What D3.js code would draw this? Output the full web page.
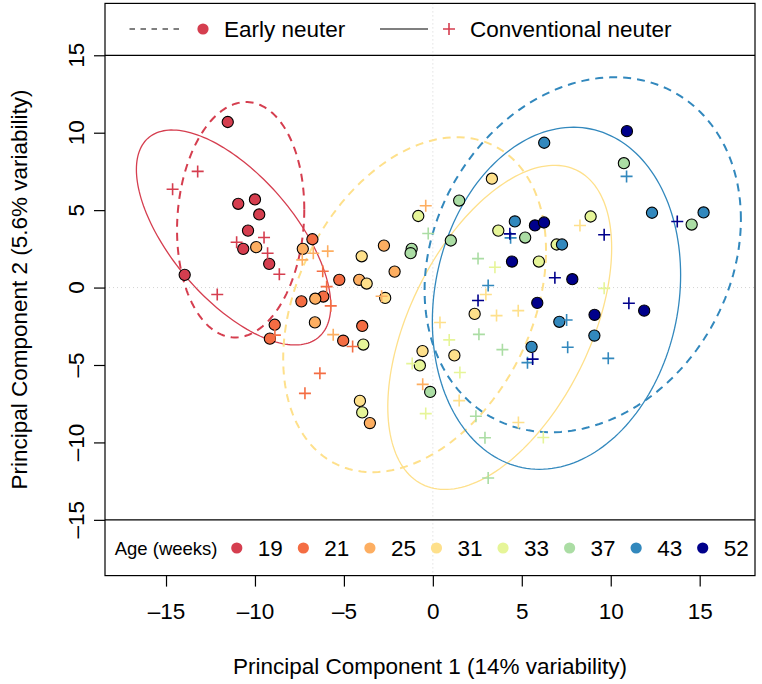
<!DOCTYPE html>
<html lang="en">
<head>
<meta charset="utf-8">
<title>pca neuter</title>
<script src="https://cdn.jsdelivr.net/npm/d3@7"></script>
<style>
body {margin: 0; background: #fff;}
text {font-family: "Liberation Sans", Arial, sans-serif; fill: #000;}
</style>
</head>
<body>
<svg width="762" height="684"></svg>
<script>
// age groups and their colours
const ages = [19, 21, 25, 31, 33, 37, 43, 52];
const ageColors = ["#D53E4F", "#F46D43", "#FDAE61", "#FEE08B", "#E6F598", "#ABDDA4", "#3288BD", "#00008B"];
const axisTicks = [-15, -10, -5, 0, 5, 10, 15];
const ellipseAges = [19, 31, 43];

// early neuter samples, [PC1, PC2]
const early19 = [[-11.53,10.69],[-10.94,5.41],[-10.00,5.69],[-9.76,4.72],[-10.39,3.68],[-10.66,2.50],[-9.20,1.53],[-13.95,0.82]];
const early21 = [[-6.77,3.12],[-7.39,-0.89],[-8.89,-2.40],[-9.16,-3.30],[-5.26,0.50],[-6.16,-0.58],[-5.04,-3.43],[-3.97,-2.48]];
const early25 = [[-9.93,2.61],[-7.31,2.50],[-6.61,-0.72],[-6.63,-2.25],[-2.75,2.71],[-4.14,0.50],[-2.15,1.03],[-3.54,-8.75]];
const early31 = [[-4.00,2.02],[-3.72,0.26],[-2.68,-0.67],[2.35,-1.70],[-0.58,-4.10],[1.21,-4.38],[-4.10,-7.32],[3.32,7.03]];
const early33 = [[-0.82,4.62],[-3.91,-3.68],[-0.73,-5.03],[-3.97,-8.06],[3.68,3.68],[8.87,4.59],[5.96,1.68],[6.96,2.78]];
const early37 = [[-1.19,2.50],[-1.25,2.22],[1.01,3.04],[-0.15,-6.74],[1.48,5.62],[10.74,8.03],[5.19,3.23],[14.55,4.07]];
const early43 = [[6.26,9.35],[4.61,4.27],[7.26,2.78],[12.32,4.83],[15.22,4.85],[7.11,-2.21],[9.08,-3.10],[5.55,-3.83]];
const early52 = [[10.91,10.10],[5.74,4.01],[6.25,4.20],[4.45,1.68],[7.84,0.54],[5.87,-0.99],[11.88,-1.49],[9.09,-1.76]];

// conventional neuter samples, [PC1, PC2]
const conv19 = [[-13.22,7.50],[-14.63,6.35],[-11.03,2.93],[-9.49,3.23],[-9.29,2.22],[-8.63,0.86],[-12.12,-0.45]];
const conv21 = [[-6.19,1.05],[-5.97,0.06],[-5.74,-1.18],[-8.88,-3.07],[-4.51,-3.81],[-6.35,-5.54],[-7.19,-6.83]];
const conv25 = [[-0.40,5.28],[-6.72,2.22],[-5.91,2.35],[-7.34,1.79],[-2.88,-0.56],[-5.60,-3.04],[-0.57,-6.25]];
const conv31 = [[8.27,4.01],[2.98,-0.45],[3.58,-1.81],[4.80,-1.49],[0.40,-2.26],[1.48,-7.30],[4.81,-8.71]];
const conv33 = [[3.49,1.31],[9.63,-0.05],[0.92,-3.38],[-1.16,-4.91],[1.52,-5.48],[-0.40,-8.14],[6.21,-9.68]];
const conv37 = [[-0.26,3.49],[2.54,1.87],[2.59,-3.02],[3.91,-4.01],[2.42,-8.31],[2.93,-9.70],[3.11,-12.30]];
const conv43 = [[10.89,7.18],[4.37,3.21],[3.11,0.13],[7.52,-2.09],[5.32,-4.85],[7.58,-3.85],[9.86,-4.57]];
const conv52 = [[4.33,3.47],[9.63,3.41],[13.74,4.27],[6.86,0.63],[2.54,-0.84],[11.02,-1.01],[5.61,-4.62]];

const earlyGroups = [early19, early21, early25, early31, early33, early37, early43, early52];
const convGroups = [conv19, conv21, conv25, conv31, conv33, conv37, conv43, conv52];

var samples = [];
ages.forEach(function (age, i) {
	earlyGroups[i].forEach(function (p) { samples.push({age: age, type: "early", pc1: p[0], pc2: p[1]}) });
	convGroups[i].forEach(function (p) { samples.push({age: age, type: "conv", pc1: p[0], pc2: p[1]}) });
});

var svg = d3.select("svg");

var x = d3.scaleLinear().domain([-18.43, 18.11]).range([105, 755]);
var y = d3.scaleLinear().domain([-18.6, 18.35]).range([575.6, 3.4]);
var color = d3.scaleOrdinal().domain(ages).range(ageColors);

/// zero lines
svg.append("line")
	.attr("x1", x(0)).attr("x2", x(0))
	.attr("y1", y.range()[1]).attr("y2", y.range()[0])
	.attr("stroke", "#d3d3d3").attr("stroke-dasharray", "1,3");
svg.append("line")
	.attr("x1", x.range()[0]).attr("x2", x.range()[1])
	.attr("y1", y(0)).attr("y2", y(0))
	.attr("stroke", "#d3d3d3").attr("stroke-dasharray", "1,3");

/// 95% normal data ellipses
function ellipse(points) {
	var mx = d3.mean(points, function (p) { return p[0] });
	var my = d3.mean(points, function (p) { return p[1] });
	var n = points.length;
	var sxx = d3.sum(points, function (p) { return (p[0] - mx) * (p[0] - mx) }) / (n - 1);
	var syy = d3.sum(points, function (p) { return (p[1] - my) * (p[1] - my) }) / (n - 1);
	var sxy = d3.sum(points, function (p) { return (p[0] - mx) * (p[1] - my) }) / (n - 1);
	var l11 = Math.sqrt(sxx), l21 = sxy / l11, l22 = Math.sqrt(syy - l21 * l21);
	var r = Math.sqrt(5.991);
	return d3.range(0, 2 * Math.PI, Math.PI / 90).map(function (t) {
		return [mx + r * l11 * Math.cos(t), my + r * (l21 * Math.cos(t) + l22 * Math.sin(t))];
	});
}

var ellLine = d3.line()
	.x(function (d) { return x(d[0]) })
	.y(function (d) { return y(d[1]) })
	.curve(d3.curveLinearClosed);

var gEll = svg.append("g").attr("fill", "none");
ellipseAges.forEach(function (age) {
	var i = ages.indexOf(age);
	gEll.append("path")
		.attr("d", ellLine(ellipse(earlyGroups[i])))
		.attr("stroke", color(age))
		.attr("stroke-width", 2)
		.attr("stroke-dasharray", "8,6");
	gEll.append("path")
		.attr("d", ellLine(ellipse(convGroups[i])))
		.attr("stroke", color(age))
		.attr("stroke-width", 1.3);
});

/// points
var gPts = svg.append("g");
gPts.selectAll("circle")
	.data(samples.filter(function (d) { return d.type == "early" }))
	.enter()
	.append("circle")
		.attr("cx", function (d) { return x(d.pc1) })
		.attr("cy", function (d) { return y(d.pc2) })
		.attr("r", 5.6)
		.attr("fill", function (d) { return color(d.age) })
		.attr("stroke", "#000")
		.attr("stroke-width", 1.1);

gPts.selectAll("path.cross")
	.data(samples.filter(function (d) { return d.type == "conv" }))
	.enter()
	.append("path")
		.classed("cross", true)
		.attr("d", function (d) {
			var cx = x(d.pc1), cy = y(d.pc2), s = 6;
			return "M" + (cx - s) + "," + cy + "H" + (cx + s) + "M" + cx + "," + (cy - s) + "V" + (cy + s);
		})
		.attr("stroke", function (d) { return color(d.age) })
		.attr("stroke-width", 1.6)
		.attr("fill", "none");

/// legend separators
svg.append("line")
	.attr("x1", x.range()[0]).attr("x2", x.range()[1])
	.attr("y1", y(15)).attr("y2", y(15))
	.attr("stroke", "#000").attr("stroke-width", 1.2);
svg.append("line")
	.attr("x1", x.range()[0]).attr("x2", x.range()[1])
	.attr("y1", y(-15)).attr("y2", y(-15))
	.attr("stroke", "#000").attr("stroke-width", 1.2);

/// box
svg.append("rect")
	.attr("x", x.range()[0]).attr("y", y.range()[1])
	.attr("width", x.range()[1] - x.range()[0])
	.attr("height", y.range()[0] - y.range()[1])
	.attr("fill", "none").attr("stroke", "#000").attr("stroke-width", 1.2);

/// axes
var gx = svg.append("g")
	.attr("transform", "translate(0," + y.range()[0] + ")")
	.call(d3.axisBottom(x).tickValues(axisTicks).tickSize(11).tickPadding(16)
		.tickFormat(function (d) { return d < 0 ? "\u2013" + Math.abs(d) : d }));
gx.select(".domain").remove();
gx.selectAll("line").attr("stroke", "#000").attr("stroke-width", 1.2);
gx.selectAll("text").attr("font-size", 22.5).attr("font-family", "Liberation Sans");

var gy = svg.append("g")
	.attr("transform", "translate(" + x.range()[0] + ",0)")
	.call(d3.axisLeft(y).tickValues(axisTicks).tickSize(11).tickFormat(""));
gy.select(".domain").remove();
gy.selectAll("line").attr("stroke", "#000").attr("stroke-width", 1.2);

svg.append("g").selectAll("text")
	.data(axisTicks)
	.enter()
	.append("text")
		.attr("transform", function (d) { return "translate(76," + y(d) + ") rotate(-90)" })
		.attr("text-anchor", "middle")
		.attr("dominant-baseline", "central")
		.attr("font-size", 22.5)
		.text(function (d) { return d < 0 ? "\u2013" + Math.abs(d) : d });

svg.append("text")
	.attr("x", (x.range()[0] + x.range()[1]) / 2)
	.attr("y", 666)
	.attr("text-anchor", "middle")
	.attr("dominant-baseline", "central")
	.attr("font-size", 22.5)
	.text("Principal Component 1 (14% variability)");

svg.append("text")
	.attr("transform", "translate(19," + (y.range()[0] + y.range()[1]) / 2 + ") rotate(-90)")
	.attr("text-anchor", "middle")
	.attr("dominant-baseline", "central")
	.attr("font-size", 22.5)
	.text("Principal Component 2 (5.6% variability)");

/// top legend
var gLeg = svg.append("g").attr("transform", "translate(0,29)");
gLeg.append("line").attr("x1", 129.5).attr("x2", 184)
	.attr("stroke", "#000").attr("stroke-width", 1.2).attr("stroke-dasharray", "5.5,5.5");
gLeg.append("circle").attr("cx", 203).attr("r", 5.6).attr("fill", color(19));
gLeg.append("text").attr("x", 224).attr("dominant-baseline", "central")
	.attr("font-size", 22.5).text("Early neuter");
gLeg.append("line").attr("x1", 380).attr("x2", 428)
	.attr("stroke", "#000").attr("stroke-width", 1.2);
gLeg.append("path").attr("d", "M443,0H455M449,-6V6")
	.attr("stroke", color(19)).attr("stroke-width", 1.6);
gLeg.append("text").attr("x", 470).attr("dominant-baseline", "central")
	.attr("font-size", 22.5).text("Conventional neuter");

/// age legend
var ageX = d3.scalePoint().domain(ages).range([236.8, 702.7]);
var gAge = svg.append("g").attr("transform", "translate(0,548)");
gAge.append("text").attr("x", 114.7).attr("dominant-baseline", "central")
	.attr("font-size", 18.5).text("Age (weeks)");
var gItem = gAge.selectAll("g.item")
	.data(ages)
	.enter()
	.append("g")
		.classed("item", true)
		.attr("transform", function (d) { return "translate(" + ageX(d) + ",0)" });
gItem.append("circle").attr("r", 5.6).attr("fill", function (d) { return color(d) });
gItem.append("text").attr("x", 21).attr("dominant-baseline", "central")
	.attr("font-size", 22.5).text(function (d) { return d });
</script>
</body>
</html>
